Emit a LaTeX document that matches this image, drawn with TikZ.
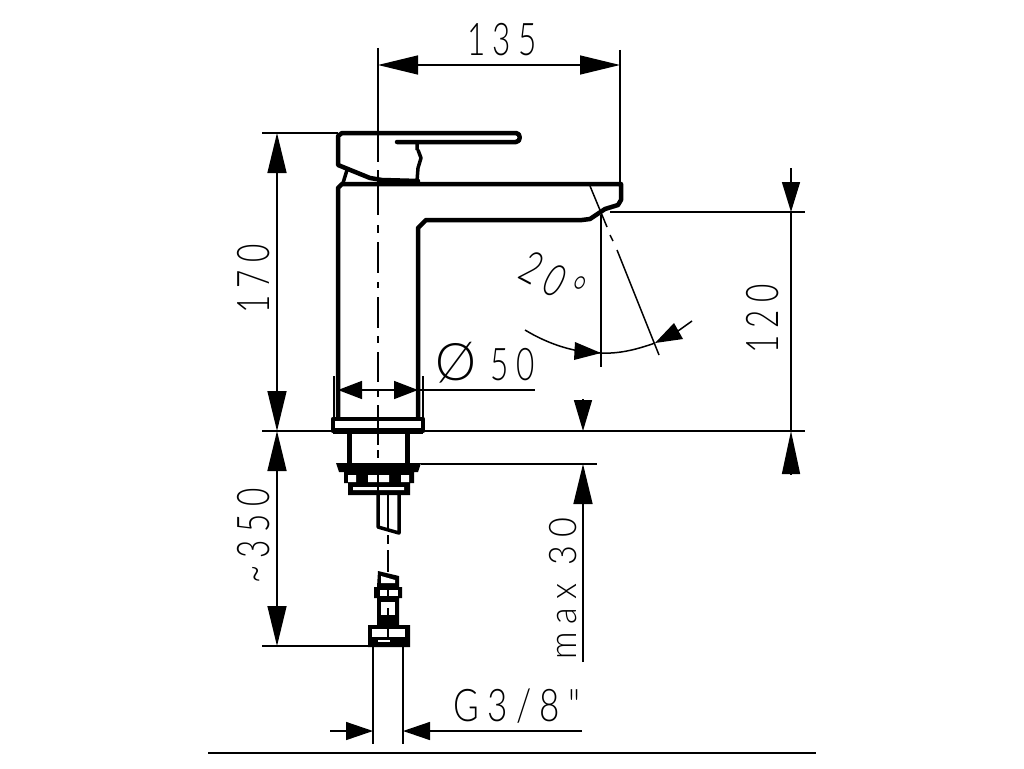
\documentclass[tikz,border=0pt]{standalone}
\usepackage{fontspec}
\usepackage{graphicx}
\usetikzlibrary{arrows.meta}
\newfontfamily\techfont[UprightFont=* Light,LetterSpace=24]{Lato}
\newcommand{\cond}[1]{\scalebox{.7}[1]{#1}}
\newcommand{\condwide}[1]{\scalebox{.78}[1]{#1}}
\tikzset{
  x=1pt,y=-1pt,
  thick outline/.style={line width=4.5pt,line join=round,line cap=round},
  part/.style={line width=3.5pt,line join=round},
  thin line/.style={line width=1.5pt},
  centre/.style={line width=1.5pt},
  dimension/.style={line width=1.5pt,-{Triangle[length=40pt,width=19pt]}},
  shortdim/.style={line width=1.5pt,-{Triangle[length=24pt,width=18pt]}},
  label/.style={font=\fontsize{45}{45}\selectfont\techfont,inner sep=0pt},
  smalllabel/.style={font=\fontsize{38}{38}\selectfont\techfont,inner sep=0pt},
}
\begin{document}
\begin{tikzpicture}
\useasboundingbox (0,0) rectangle (1024,768);
\fill[white] (0,0) rectangle (1024,768);
% lever
\draw[thick outline] (397,142) -- (516,142) .. controls (521,142) and (521,133) .. (516,133) -- (342,133) -- (338,136) -- (338,165) -- (370,178) -- (382,180) -- (418,181);
\draw[part] (417,142) -- (417,150) (418,150) -- (421,158) -- (418,168) -- (417,181);
\draw[part] (347,170) -- (343,183);
% body
\draw[thick outline] (338,418) -- (338,188) -- (342,184) -- (621,184) -- (621,200) -- (618,205) -- (605,209) -- (590,219) -- (582,220) -- (426,220) -- (418,228) -- (418,418);
% base
\draw[thick outline] (333,419) rectangle (423,431);
\fill (333,417) rectangle (423,421);
\fill (333,428) rectangle (423,434);
\draw[line width=5pt] (349,432) -- (349,464) (407,432) -- (407,464);
\fill (336,463) -- (421,463) -- (418,472) -- (414,472) -- (414,483) -- (410,483) -- (410,495) -- (348,495) -- (348,483) -- (344,483) -- (344,472) -- (339,472) -- cycle;
\fill[white] (348,475) rectangle (356,482) (368,475) rectangle (389,482) (401,475) rectangle (409,482) (353,487) rectangle (404,490);
\draw[part] (378,495) -- (378,527) -- (399,533) -- (399,495);
\draw[line width=1.6pt] (388,495) -- (388,530);
% centre lines
\draw[centre] (378,48) -- (378,162) (378,170) -- (378,215) (378,225) -- (378,233) (378,242) -- (378,273) (378,282) -- (378,288) (378,297) -- (378,328) (378,336) -- (378,343) (378,352) -- (378,382) (378,390) -- (378,397) (378,405) -- (378,445) (378,450) -- (378,458) (378,463) -- (378,495);
\draw[centre] (388,535) -- (388,544) (388,550) -- (388,572);
% lower connector
\fill (378,571) -- (399,576) -- (399,587) -- (402,587) -- (402,598) -- (399,598) -- (399,625) -- (410,625) -- (410,647) -- (368,647) -- (368,625) -- (377,625) -- (377,598) -- (374,598) -- (374,587) -- (377,587) -- cycle;
\fill[white] (381,576) -- (395,580) -- (395,583) -- (381,583) -- cycle;
\fill[white] (380,590) rectangle (398,596);
\fill[white] (381,602) rectangle (395,615);
\fill[white] (372,629) rectangle (405,637);
\fill[white] (378,640) rectangle (390,642);
\draw[line width=1.5pt] (388,590) -- (388,597) (388,608) -- (388,620) (388,629) -- (388,637);
% extension lines
\draw[thin line] (620,50) -- (620,184);
\draw[thin line] (262,133) -- (338,133);
\draw[thin line] (262,431) -- (805,431);
\draw[thin line] (262,646) -- (368,646);
\draw[thin line] (610,212) -- (805,212);
\draw[thin line] (421,464) -- (597,464);
\draw[thin line] (334,376) -- (334,418) (423,376) -- (423,418);
\draw[thin line] (373,647) -- (373,744) (403,647) -- (403,744);
% dimension lines
\coordinate (a135l) at (378,65); \coordinate (a135r) at (620,65);
\draw[dimension] (499,65) -- (a135l);
\draw[dimension] (499,65) -- (a135r);
\coordinate (a170t) at (277,133); \coordinate (a170b) at (277,431);
\draw[dimension] (277,280) -- (a170t);
\draw[dimension] (277,280) -- (a170b);
\coordinate (a350t) at (277,431); \coordinate (a350b) at (277,646);
\draw[dimension] (277,540) -- (a350t);
\draw[dimension] (277,540) -- (a350b);
\coordinate (a120t) at (791,212); \coordinate (a120b) at (791,431);
\draw[shortdim,-{Triangle[length=30pt,width=18pt]}] (791,168) -- (a120t);
\draw[thin line] (a120t) -- (a120b);
\draw[shortdim,-{Triangle[length=43pt,width=18pt]}] (791,474) -- (a120b);
\coordinate (m30t) at (583,431); \coordinate (m30b) at (583,464);
\draw[shortdim,-{Triangle[length=31pt,width=18pt]}] (583,399) -- (m30t);
\draw[dimension] (583,662) -- (m30b);
\coordinate (d50l) at (338,390); \coordinate (d50r) at (418,390);
\draw[shortdim] (378,390) -- (d50l);
\draw[shortdim] (378,390) -- (d50r);
\draw[thin line] (418,390) -- (535,390);
\coordinate (g38l) at (373,731); \coordinate (g38r) at (403,731);
\draw[shortdim,-{Triangle[length=27pt,width=18pt]}] (330,731) -- (g38l);
\draw[shortdim,-{Triangle[length=27pt,width=18pt]}] (582,731) -- (g38r);
% angle
\draw[thin line] (601,215) -- (601,367);
\draw[thin line] (590,186) -- (607,227) (610,235) -- (613,241) (617,250) -- (659,355);
\draw[thin line] (525,330) .. controls (548,344) and (575,353) .. (601,353);
\draw[thin line] (601,353) .. controls (620,354) and (638,349) .. (655,343);
\fill (601,353) -- (575,342) -- (574,360) -- cycle;
\fill (655,343) -- (674,323) -- (683,339) -- cycle;
\draw[thin line] (678,331) -- (692,321);
% bottom rule
\draw[line width=2pt] (208,753) -- (816,753);
% texts
\node[label] (t135) at (502,40) {\cond{135}};
\node[label,rotate=90] (t170) at (254,279) {\cond{170}};
\node[label,rotate=90] (t120) at (763,319) {\cond{120}};
\node[label,rotate=90] (t350) at (254,536) {\cond{\char`\~350}};
\node[smalllabel,rotate=90] (tmax) at (563,589) {\scalebox{.9}[1]{max 30}};
\node[label] (t50) at (485,363) {\scalebox{1.15}{Ø}\hspace{14pt}\cond{50}};
\node[label] (tg) at (517,706) {\condwide{G3/8"}};
\node[label,rotate=-28] (t20) at (553,279) {\cond{20°}};
\end{tikzpicture}
\end{document}
